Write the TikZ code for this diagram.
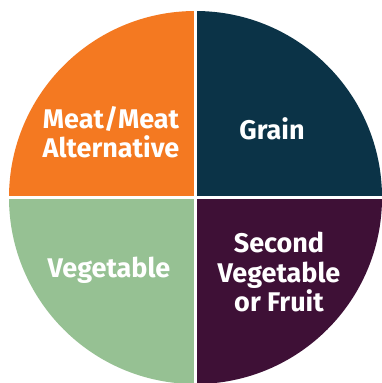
\documentclass[tikz,border=0pt]{standalone}
\usepackage{fontspec}
\newfontfamily\labelfont{Fira Sans}
\definecolor{meatc}{HTML}{F47921}
\definecolor{grainc}{HTML}{0B3347}
\definecolor{vegc}{HTML}{96C193}
\definecolor{fruitc}{HTML}{3E1036}
\tikzset{
  lbl/.style={text=white, align=center, font=\labelfont\bfseries\fontsize{27}{29.5}\selectfont, inner sep=0pt}
}
\begin{document}
\begin{tikzpicture}[x=1pt,y=-1pt]
\useasboundingbox (0,0) rectangle (382,383);
\fill[white] (0,0) rectangle (382,383);
\begin{scope}
  \clip (195.5,197.5) circle (186.5);
  \fill[meatc] (0,0) rectangle (194,196);
  \fill[grainc] (197,0) rectangle (400,196);
  \fill[vegc] (0,199) rectangle (194,400);
  \fill[fruitc] (197,199) rectangle (400,400);
\end{scope}
\node[lbl] (meat) at (111,132) {Meat/Meat\\Alternative};
\node[lbl] (grain) at (272,128.5) {Grain};
\node[lbl] (veg) at (109,270) {Vegetable};
\node[lbl] (fruit) at (279,272) {Second\\Vegetable\\or Fruit};
\end{tikzpicture}
\end{document}
